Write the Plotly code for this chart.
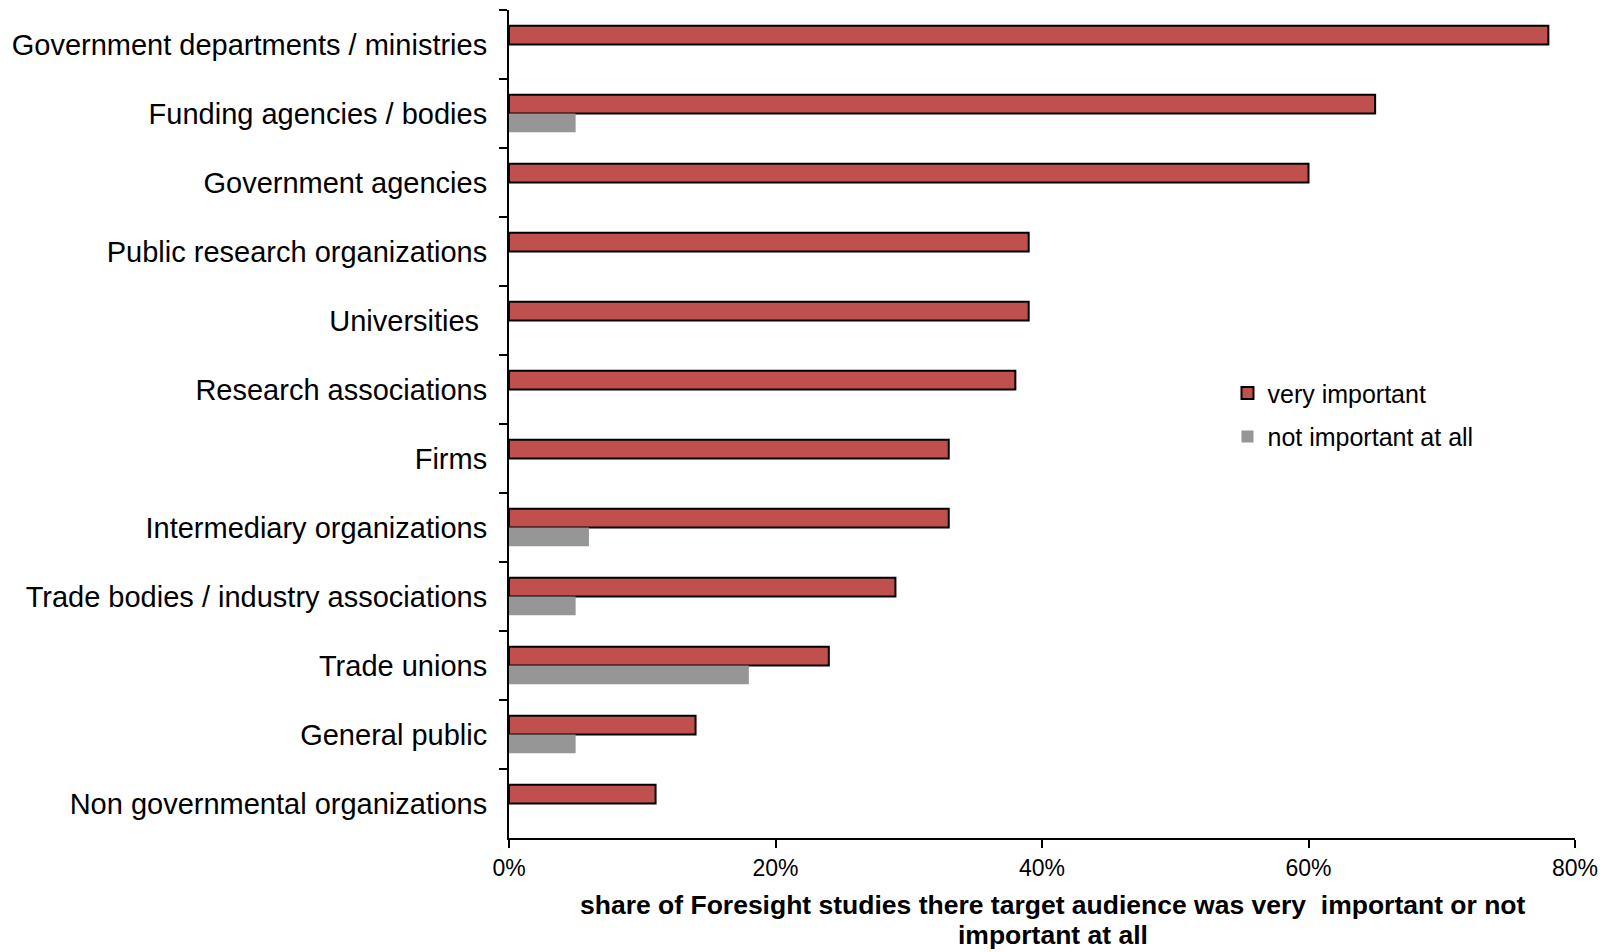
import plotly.graph_objects as go

# Target audiences, listed top to bottom
audiences = [
    "Government departments / ministries",
    "Funding agencies / bodies",
    "Government agencies",
    "Public research organizations",
    "Universities\u00a0",
    "Research associations",
    "Firms",
    "Intermediary organizations",
    "Trade bodies / industry associations",
    "Trade unions",
    "General public",
    "Non governmental organizations",
]

# Share of Foresight studies (fraction of studies)
very_important = [0.78, 0.65, 0.60, 0.39, 0.39, 0.38, 0.33, 0.33, 0.29, 0.24, 0.14, 0.11]
not_important_at_all = [0.0, 0.05, 0.0, 0.0, 0.0, 0.0, 0.0, 0.06, 0.05, 0.18, 0.05, 0.0]

x_ticks = [0, 0.2, 0.4, 0.6, 0.8]
x_title_lines = [
    "share of Foresight studies there target audience was very  important or not",
    "important at all",
]

fig = go.Figure()
fig.add_trace(go.Bar(
    y=audiences, x=very_important, orientation="h", name="very important",
    legendgroup="very",
    marker=dict(color="#C0504D", line=dict(color="#000000", width=2)),
))
fig.add_trace(go.Bar(
    y=audiences, x=not_important_at_all, orientation="h", name="not important at all",
    legendgroup="not",
    marker=dict(color="#969696", line=dict(width=0)),
))

title_font = dict(family="Liberation Sans Narrow, Liberation Sans, Arial", size=26.5)
title_annotations = [
    dict(text="<b>" + x_title_lines[0] + "</b>", xref="paper", yref="paper",
         x=0.51, y=-0.0815, xanchor="center", yanchor="middle",
         showarrow=False, font=title_font),
    dict(text="<b>" + x_title_lines[1] + "</b>", xref="paper", yref="paper",
         x=0.51, y=-0.136, xanchor="center", yanchor="bottom",
         showarrow=False, font=title_font, borderpad=0),
]

fig.update_layout(
    width=1609, height=952,
    margin=dict(l=509, r=34, t=10, b=114),
    paper_bgcolor="white", plot_bgcolor="white",
    barmode="group", bargap=0.46, bargroupgap=0,
    font=dict(family="Liberation Sans, Arial, sans-serif", color="#000000"),
    legend=dict(
        x=0.674, y=0.565, xanchor="left", yanchor="top",
        bgcolor="white", font=dict(size=25),
        itemwidth=30, tracegroupgap=8,
    ),
    xaxis=dict(
        range=[0, 0.8], tickvals=x_ticks, tickformat=".0%",
        showgrid=False, zeroline=False, automargin=False,
        showline=True, linecolor="#000000", linewidth=2,
        ticks="outside", ticklen=8, tickwidth=2, tickcolor="#000000",
        tickfont=dict(family="Liberation Sans Narrow, Liberation Sans, Arial", size=23),
    ),
    yaxis=dict(
        autorange="reversed", showgrid=False, zeroline=False, automargin=False,
        showline=True, linecolor="#000000", linewidth=2,
        ticks="outside", ticklen=8, tickwidth=2, tickcolor="#000000",
        tickson="boundaries", ticklabelstandoff=14,
        tickfont=dict(size=29),
    ),
    annotations=title_annotations,
)

fig.write_html("out.html")
